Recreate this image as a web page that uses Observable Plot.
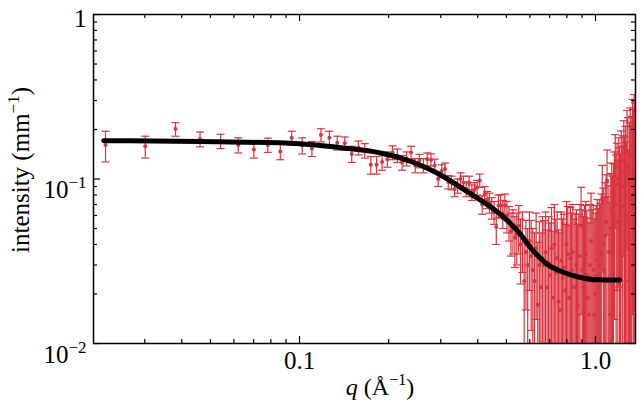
<!DOCTYPE html>
<html><head><meta charset="utf-8">
<script src="https://cdn.jsdelivr.net/npm/d3@7"></script>
<script src="https://cdn.jsdelivr.net/npm/@observablehq/plot@0.6"></script>
<style>body{margin:0;background:#fff} svg{display:block}</style>
</head><body><div id="chart"></div>
<script>
const q = [0.0221,0.0301,0.0381,0.0461,0.0541,0.0621,0.0701,0.0781,0.0861,0.0941,
0.1021,0.1101,0.1181,0.1261,0.1341,0.1421,0.1501,0.1581,0.1661,0.1741,
0.1821,0.1901,0.1981,0.2061,0.2141,0.2221,0.2301,0.2381,0.2461,0.2541,
0.2621,0.2701,0.2781,0.2861,0.2941,0.3021,0.3101,0.3181,0.3261,0.3341,
0.3421,0.3501,0.3581,0.3661,0.3741,0.3821,0.3901,0.3981,0.4061,0.4141,
0.4221,0.4301,0.4381,0.4461,0.4541,0.4621,0.4701,0.4781,0.4861,0.4941,
0.5021,0.5101,0.5181,0.5261,0.5341,0.5421,0.5501,0.5581,0.5661,0.5741,
0.5821,0.5901,0.5981,0.6061,0.6141,0.6221,0.6301,0.6381,0.6461,0.6541,
0.6621,0.6701,0.6781,0.6861,0.6941,0.7021,0.7101,0.7181,0.7261,0.7341,
0.7421,0.7501,0.7581,0.7661,0.7741,0.7821,0.7901,0.7981,0.8061,0.8141,
0.8221,0.8301,0.8381,0.8461,0.8541,0.8621,0.8701,0.8781,0.8861,0.8941,
0.9021,0.9101,0.9181,0.9261,0.9341,0.9421,0.9501,0.9581,0.9661,0.9741,
0.9821,0.9901,0.9981,1.0061,1.0141,1.0221,1.0301,1.0381,1.0461,1.0541,
1.0621,1.0701,1.0781,1.0861,1.0941,1.1021,1.1101,1.1181,1.1261,1.1341,
1.1421,1.1501,1.1581,1.1661,1.1741,1.1821,1.1901,1.1981,1.2061,1.2141,
1.2221,1.2301,1.2381,1.2461,1.2541,1.2621,1.2701,1.2781,1.2861,1.2941,
1.3021,1.3101,1.3181,1.3261,1.3341,1.3421,1.3501,1.3581];

const intensity = [0.161,0.158,0.201,0.175,0.170,0.161,0.151,0.161,0.147,0.178,
0.160,0.153,0.185,0.178,0.166,0.165,0.142,0.155,0.149,0.122,
0.122,0.127,0.132,0.145,0.139,0.126,0.133,0.145,0.121,0.129,
0.121,0.132,0.131,0.121,0.100,0.112,0.115,0.096,0.095,0.087,
0.091,0.100,0.095,0.087,0.095,0.083,0.086,0.089,0.098,0.070,
0.081,0.075,0.072,0.067,0.063,0.051,0.069,0.069,0.062,0.069,
0.060,0.055,0.048,0.050,0.044,0.046,0.052,0.040,0.045,0.024,
0.036,0.030,0.042,0.034,0.028,0.024,0.038,0.0172,0.030,0.022,
0.033,0.030,0.036,0.022,0.031,0.026,0.038,0.019,0.040,0.027,
0.033,0.018,0.016,0.032,0.025,0.029,0.021,0.040,0.035,0.019,
0.033,0.028,0.036,0.022,0.026,0.030,0.017,0.025,0.034,0.052,
0.028,0.022,0.031,0.035,0.026,0.019,0.015,0.030,0.042,0.024,
0.028,0.015,0.020,0.026,0.032,0.022,0.030,0.026,0.035,0.074,
0.040,0.028,0.045,0.055,0.098,0.024,0.036,0.015,0.050,0.065,
0.042,0.060,0.080,0.118,0.070,0.093,0.055,0.100,0.075,0.060,
0.110,0.068,0.090,0.130,0.080,0.105,0.060,0.149,0.120,0.024,
0.095,0.140,0.075,0.100,0.160,0.115,0.171,0.130];

const err = [0.034,0.024,0.019,0.018,0.017,0.017,0.017,0.016,0.016,0.017,
0.018,0.016,0.017,0.017,0.016,0.015,0.016,0.015,0.015,0.015,
0.015,0.014,0.014,0.014,0.013,0.013,0.013,0.013,0.012,0.012,
0.012,0.012,0.011,0.011,0.010,0.010,0.010,0.009,0.009,0.009,
0.009,0.009,0.009,0.009,0.009,0.009,0.009,0.009,0.009,0.009,
0.009,0.009,0.010,0.010,0.010,0.011,0.011,0.011,0.012,0.012,
0.013,0.013,0.014,0.015,0.015,0.016,0.017,0.017,0.018,0.019,
0.020,0.020,0.021,0.022,0.022,0.023,0.024,0.024,0.025,0.025,
0.026,0.026,0.027,0.027,0.028,0.028,0.029,0.029,0.030,0.030,
0.030,0.031,0.031,0.031,0.032,0.032,0.032,0.033,0.033,0.033,
0.034,0.034,0.034,0.035,0.035,0.035,0.036,0.036,0.036,0.037,
0.037,0.037,0.038,0.038,0.038,0.039,0.039,0.040,0.040,0.041,
0.041,0.042,0.042,0.043,0.043,0.044,0.045,0.045,0.046,0.047,
0.048,0.049,0.050,0.051,0.052,0.054,0.055,0.057,0.058,0.060,
0.062,0.064,0.066,0.068,0.070,0.072,0.075,0.078,0.080,0.083,
0.086,0.090,0.093,0.096,0.100,0.104,0.108,0.112,0.116,0.120,
0.125,0.130,0.135,0.140,0.145,0.150,0.155,0.160];

const fitQ = [0.0218,0.0463,0.1,0.1376,0.1878,0.2432,0.288,0.373,0.484,0.551,0.603,0.687,0.782,0.89,1.013,1.208];
const fitI = [0.171,0.169,0.164,0.155,0.144,0.126,0.110,0.0827,0.0597,0.0473,0.0383,0.0303,0.027,0.0252,0.0244,0.0243];

const xMajor = [0.1, 1];
const xTickLabels = ["0.1", "1.0"];
const xMinor = [0.03,0.04,0.05,0.06,0.07,0.08,0.09,0.2,0.3,0.4,0.5,0.6,0.7,0.8,0.9];
const yMajor = [0.01, 0.1, 1];
const yTickLabels = ["10^−2", "10^−1", "1"];
const yMinor = [0.02,0.03,0.04,0.05,0.06,0.07,0.08,0.09,0.2,0.3,0.4,0.5,0.6,0.7,0.8,0.9];

const RED = "#d8333f";
const FONT = "'Liberation Serif', 'Times New Roman', serif";
const FS = 25;
const W = 642, H = 403;
const mT = 14, mB = 60, mL = 93, mR = 7;
const PH = H - mT - mB, PW = W - mL - mR;
const MAJ = 7, MIN = 4;

const points = q.map((d, i) => ({
  q: d, v: intensity[i],
  lo: Math.max(intensity[i] - err[i], 0.004),
  hi: intensity[i] + err[i]
}));
const fit = fitQ.map((d, i) => ({q: d, v: fitI[i]}));

const cap = {draw(ctx, size) { const w = Math.sqrt(size / Math.PI); ctx.moveTo(-w, 0); ctx.lineTo(w, 0); }};

const xFmt = d => xTickLabels[xMajor.indexOf(d)];
const yFmt = d => yTickLabels[yMajor.indexOf(d)];

const plot = Plot.plot({
  width: W, height: H,
  marginTop: mT, marginBottom: mB, marginLeft: mL, marginRight: mR,
  style: {fontFamily: FONT, fontSize: FS + "px", background: "#fff", color: "#000"},
  x: {type: "log", domain: [0.02013, 1.365]},
  y: {type: "log", domain: [0.01, 1]},
  marks: [
    Plot.ruleX(points, {x: "q", y1: "lo", y2: "hi", stroke: RED, strokeWidth: 1.2, clip: true}),
    Plot.dot(points, {x: "q", y: "hi", symbol: cap, r: 4, stroke: RED, strokeWidth: 1.2, fill: "none", clip: true}),
    Plot.dot(points, {x: "q", y: "lo", symbol: cap, r: 4, stroke: RED, strokeWidth: 1.2, fill: "none", clip: true}),
    Plot.dot(points, {x: "q", y: "v", r: 2, fill: RED, stroke: null, clip: true}),
    Plot.line(fit, {x: "q", y: "v", stroke: "#000", strokeWidth: 5, curve: "monotone-x"}),
    Plot.tickX(xMajor, {x: d => d, insetTop: PH - MAJ, stroke: "#000", strokeWidth: 1.2}),
    Plot.tickX(xMinor, {x: d => d, insetTop: PH - MIN, stroke: "#000", strokeWidth: 1.2}),
    Plot.tickX(xMajor, {x: d => d, insetBottom: PH - MAJ, stroke: "#000", strokeWidth: 1.2}),
    Plot.tickX(xMinor, {x: d => d, insetBottom: PH - MIN, stroke: "#000", strokeWidth: 1.2}),
    Plot.tickY(yMajor, {y: d => d, insetRight: PW - MAJ, stroke: "#000", strokeWidth: 1.2}),
    Plot.tickY(yMinor, {y: d => d, insetRight: PW - MIN, stroke: "#000", strokeWidth: 1.2}),
    Plot.tickY(yMajor, {y: d => d, insetLeft: PW - MAJ, stroke: "#000", strokeWidth: 1.2}),
    Plot.tickY(yMinor, {y: d => d, insetLeft: PW - MIN, stroke: "#000", strokeWidth: 1.2}),
    Plot.axisX({ticks: xMajor, tickFormat: xFmt, tickSize: 0, tickPadding: 8, label: null, fontSize: FS}),
    Plot.axisY({ticks: yMajor, tickFormat: yFmt, tickSize: 0, tickPadding: 7, label: null, fontSize: FS}),
    Plot.frame({stroke: "#000", strokeWidth: 1.5})
  ]
});

document.getElementById("chart").appendChild(plot);

const NS = "http://www.w3.org/2000/svg";
plot.querySelectorAll("text").forEach(t => {
  t.setAttribute("font-family", FONT);
  t.setAttribute("font-size", FS);
  t.style.fontFamily = FONT; t.style.fontSize = FS + "px";
  const s = t.textContent;
  if (s.includes("^")) {
    const [b, e] = s.split("^");
    t.textContent = "";
    const tb = document.createElementNS(NS, "tspan");
    tb.textContent = b;
    const te = document.createElementNS(NS, "tspan");
    te.textContent = e; te.setAttribute("dy", "-10"); te.setAttribute("font-size", "17");
    t.appendChild(tb); t.appendChild(te);
    t.setAttribute("dy", "0.45em");
  } else if (s === "1") {
    t.setAttribute("dy", "0.18em");
  }
});

const svg = d3.select(plot);
svg.append("text")
  .attr("transform", "translate(29,170) rotate(-90)")
  .attr("text-anchor", "middle").attr("font-size", FS).attr("font-family", FONT).attr("fill", "#000")
  .html('intensity (mm<tspan dy="-10" font-size="17">−1</tspan><tspan dy="10">)</tspan>');
svg.append("text")
  .attr("x", 380).attr("y", 395)
  .attr("text-anchor", "middle").attr("font-size", 24).attr("font-family", FONT).attr("fill", "#000")
  .html('<tspan font-style="italic">q</tspan> (Å<tspan dy="-10" font-size="16">−1</tspan><tspan dy="10">)</tspan>');
</script>
</body></html>
